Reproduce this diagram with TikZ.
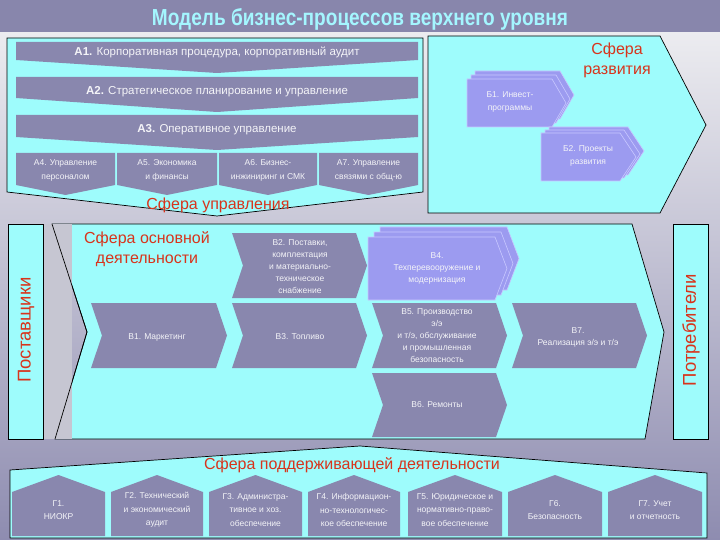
\documentclass[tikz,border=0pt]{standalone}
\usepackage{graphicx}
\usepackage{fontspec}
\setmainfont{Liberation Sans}
\definecolor{cyanF}{HTML}{9EFCFC}
\definecolor{bandC}{HTML}{8987AE}
\definecolor{lavC}{HTML}{9C9BF0}
\definecolor{lavE}{HTML}{C8C8FF}
\definecolor{titleBg}{HTML}{8886AC}
\definecolor{titleTx}{HTML}{A4F6FF}
\definecolor{redC}{HTML}{D8341C}
\definecolor{lblC}{HTML}{F4F4F8}
\definecolor{bgTop}{HTML}{ECECF0}
\definecolor{bgMid}{HTML}{D2D2DC}
\definecolor{bgBot}{HTML}{8E8CB0}
\definecolor{stripC}{HTML}{C6C6D2}
\newcommand{\pentp}[6]{\path[#6] (#1,#2) -- ({#3-#5},#2) -- (#3,{(#2+#4)/2}) -- ({#3-#5},#4) -- (#1,#4) -- cycle;}
\newcommand{\chevp}[6]{\path[#6] (#1,#2) -- ({#3-#5},#2) -- (#3,{(#2+#4)/2}) -- ({#3-#5},#4) -- (#1,#4) -- ({#1+#5},{(#2+#4)/2}) -- cycle;}
\newcommand{\housep}[2]{\path[band] (#1,536) -- (#1,492) -- ({(#1+#2)/2},475) -- (#2,492) -- (#2,536) -- cycle;}
\tikzset{
  sph/.style={fill=cyanF, draw=black, line width=0.7pt},
  band/.style={fill=bandC},
  lav/.style={fill=lavC, draw=lavE, line width=0.6pt},
  lab/.style={text=lblC, font=\fontsize{8.5}{12}\selectfont, align=center, inner sep=0pt},
  labA/.style={text=lblC, font=\fontsize{11.5}{13}\selectfont, align=center, inner sep=0pt},
  labG/.style={text=lblC, font=\fontsize{8.5}{13.5}\selectfont, align=center, inner sep=0pt},
  redlab/.style={text=redC, font=\fontsize{16}{20}\selectfont, align=center, inner sep=0pt},
  vertlab/.style={text=redC, font=\fontsize{18.5}{20}\selectfont, rotate=90, inner sep=0pt},
  vbox/.style={fill=cyanF, draw=black, line width=0.7pt}
}
\begin{document}
\begin{tikzpicture}[x=1pt,y=-1pt]
\useasboundingbox (0,0) rectangle (720,540);
% background
\shade[top color=bgTop, middle color=bgMid, bottom color=bgBot] (0,32) rectangle (720,540);
\fill[titleBg] (0,0) rectangle (720,32);
\node[text=titleTx, anchor=base, inner sep=0pt] (title) at (360,26) {\resizebox{416pt}{17pt}{\bfseries Модель бизнес-процессов верхнего уровня}};

% management sphere
\path[sph] (7,38) -- (423,38) -- (423,192) -- (217,216) -- (7,192) -- cycle;
\path[band] (16,42) -- (418,42) -- (418,60) -- (217,73) -- (16,60) -- cycle;
\path[band] (16,77) -- (418,77) -- (418,98) -- (217,112) -- (16,98) -- cycle;
\path[band] (16,115) -- (418,115) -- (418,137) -- (217,150) -- (16,137) -- cycle;
\node[labA] (a1) at (217,52) {\textbf{A1.} Корпоративная процедура, корпоративный аудит};
\node[labA] (a2) at (217,92) {\textbf{A2.} Стратегическое планирование и управление};
\node[labA] (a3) at (217,130) {\textbf{A3.} Оперативное управление};
\path[band] (16,153) -- (115,153) -- (115,185) -- (65.5,195) -- (16,185) -- cycle;
\path[band] (117,153) -- (217,153) -- (217,185) -- (167,195) -- (117,185) -- cycle;
\path[band] (219,153) -- (317,153) -- (317,185) -- (268,195) -- (219,185) -- cycle;
\path[band] (319,153) -- (418,153) -- (418,185) -- (368.5,195) -- (319,185) -- cycle;
\node[lab, font=\fontsize{8.5}{14}\selectfont] (a4) at (65.5,170) {A4. Управление\\персоналом};
\node[lab, font=\fontsize{8.5}{14}\selectfont] (a5) at (167,170) {A5. Экономика\\и финансы};
\node[lab, font=\fontsize{8.5}{14}\selectfont] (a6) at (268,170) {A6. Бизнес-\\инжиниринг и СМК};
\node[lab, font=\fontsize{8.5}{14}\selectfont] (a7) at (368.5,170) {A7. Управление\\связями с общ-ю};
\node[redlab] (sfU) at (218,205) {Сфера управления};

% development sphere
\path[sph] (428,36) -- (660,36) -- (706,125) -- (660,213) -- (428,213) -- cycle;
\node[redlab] (sfR) at (617,60) {Сфера\\развития};
\pentp{475}{71}{574}{119}{14}{lav}
\pentp{471}{75}{570}{123}{14}{lav}
\pentp{467}{79}{566}{127}{14}{lav}
\node[lab, font=\fontsize{8.5}{13}\selectfont] (b1) at (510,102) {Б1. Инвест-\\программы};
\pentp{549}{127}{644}{175}{16}{lav}
\pentp{545}{130}{640}{178}{16}{lav}
\pentp{541}{133}{636}{181}{16}{lav}
\node[lab, font=\fontsize{8.5}{13}\selectfont] (b2) at (588,156) {Б2. Проекты\\развития};

% side boxes
\path[vbox] (8,224) rectangle (43,439);
\path[vbox] (673,224) rectangle (708,439);
\node[vertlab] (post) at (26,330) {Поставщики};
\node[vertlab] (potr) at (691,330) {Потребители};

% main activity sphere
\path[sph] (52,224) -- (632,224) -- (664,332) -- (645,439) -- (55,439) -- (87,332) -- cycle;
\fill[stripC] (44,224.4) rectangle (72,438.6);
\draw[line width=0.7pt] (52,224) -- (87,332) -- (55,439);
\node[redlab, text=redC] (sfO) at (147,249) {Сфера основной\\деятельности};
\chevp{232}{233}{367}{298}{11}{band}
\node[lab] (v2) at (300,267) {В2. Поставки,\\комплектация\\и материально-\\техническое\\снабжение};
\chevp{91}{303}{227}{368}{11}{band}
\node[lab] (v1) at (157,337) {В1. Маркетинг};
\chevp{232}{303}{367}{368}{11}{band}
\node[lab] (v3) at (300,337) {В3. Топливо};
\pentp{380}{227}{519}{290}{12}{lav}
\pentp{374}{232}{513}{295}{12}{lav}
\pentp{368}{237}{507}{300}{12}{lav}
\node[lab] (v4) at (437,268) {В4.\\Техперевооружение и\\модернизация};
\chevp{372}{303}{507}{368}{11}{band}
\node[lab] (v5) at (437,336) {В5. Производство\\э/э\\и т/э, обслуживание\\и промышленная\\безопасность};
\chevp{512}{303}{647}{368}{11}{band}
\node[lab] (v7) at (578,337) {В7.\\Реализация э/э и т/э};
\chevp{372}{373}{507}{437}{11}{band}
\node[lab] (v6) at (437,405) {В6. Ремонты};

% supporting sphere
\path[sph] (10,470) -- (360,446) -- (707,473) -- (707,538) -- (10,538) -- cycle;
\node[redlab] (sfP) at (352,465) {Сфера поддерживающей деятельности};
\housep{12}{105}
\housep{111}{203}
\housep{209}{302}
\housep{308}{400}
\housep{408}{502}
\housep{508}{602}
\housep{608}{702}
\node[labG] (g1) at (58.5,510) {Г1.\\НИОКР};
\node[labG] (g2) at (157,510) {Г2. Технический\\и экономический\\аудит};
\node[labG] (g3) at (255.5,510) {Г3. Администра-\\тивное и хоз.\\обеспечение};
\node[labG] (g4) at (354,510) {Г4. Информацион-\\но-технологичес-\\кое обеспечение};
\node[labG] (g5) at (455,510) {Г5. Юридическое и\\нормативно-право-\\вое обеспечение};
\node[labG] (g6) at (555,510) {Г6.\\Безопасность};
\node[labG] (g7) at (655,510) {Г7. Учет\\и отчетность};
\end{tikzpicture}
\end{document}
